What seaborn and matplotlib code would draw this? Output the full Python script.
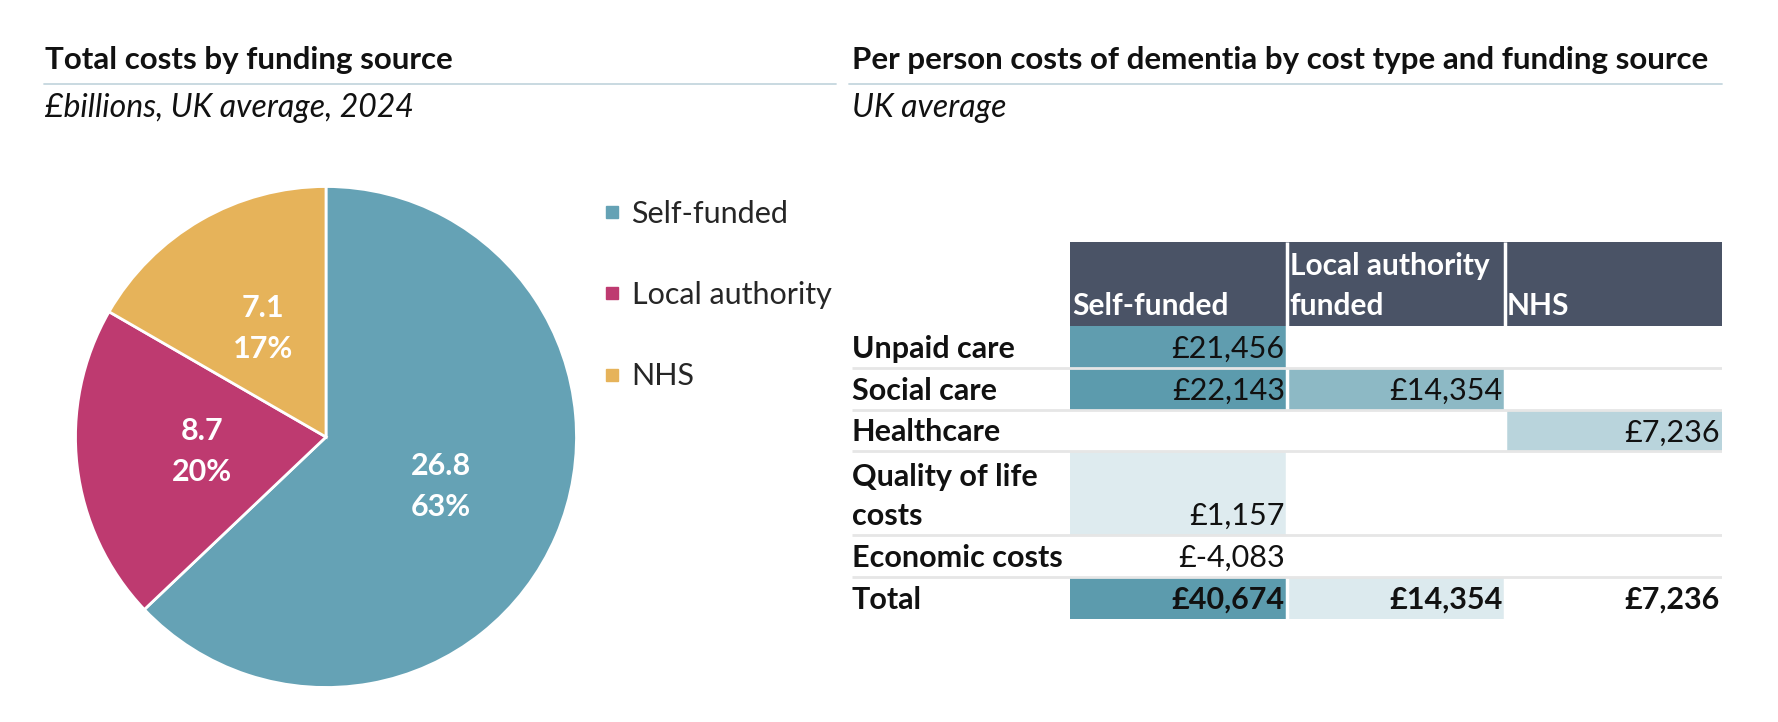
import numpy as np
import pandas as pd
import matplotlib
matplotlib.use("Agg")
import matplotlib.pyplot as plt
import seaborn as sns
from matplotlib.colors import LinearSegmentedColormap
from matplotlib.lines import Line2D
from matplotlib.patches import Rectangle

# ---------------- data ----------------
pie_labels = ["Self-funded", "Local authority", "NHS"]
pie_values = [26.8, 8.7, 7.1]
pie_colors = ["#65A2B5", "#BE3A70", "#E6B35A"]

col_labels = ["Self-funded", "Local authority\nfunded", "NHS"]
row_labels = ["Unpaid care", "Social care", "Healthcare",
              "Quality of life\ncosts", "Economic costs", "Total"]
self_funded = [21456, 22143, np.nan, 1157, -4083, 40674]
local_auth = [np.nan, 14354, np.nan, np.nan, np.nan, 14354]
nhs = [np.nan, np.nan, 7236, np.nan, np.nan, 7236]

# ---------------- style ----------------
sns.set_theme(style="white")
plt.rcParams["font.family"] = ["Lato", "DejaVu Sans"]

fig = plt.figure(figsize=(17.78, 7.22), dpi=100)
W, H = 1778, 722


def fx(px):
    return px / W


def fy(py):
    return 1 - py / H


title_kw = dict(fontsize=22.5, fontweight="bold", color="#111111", va="baseline")
sub_kw = dict(fontsize=23, fontstyle="italic", color="#111111", va="baseline")

fig.text(fx(45), fy(69), "Total costs by funding source", **title_kw)
fig.text(fx(45), fy(117), "£billions, UK average, 2024", **sub_kw)
fig.text(fx(852), fy(69), "Per person costs of dementia by cost type and funding source", **title_kw)
fig.text(fx(852), fy(117), "UK average", **sub_kw)
rule_color = "#C5D7DE"
fig.add_artist(Line2D([fx(44), fx(836)], [fy(84), fy(84)], color=rule_color, lw=1.3))
fig.add_artist(Line2D([fx(849), fx(1722)], [fy(84), fy(84)], color=rule_color, lw=1.3))

# ---------------- pie ----------------
ax_pie = fig.add_axes([fx(73), fy(690), fx(506), 506 / H])
total = sum(pie_values)
wedges, _, autotexts = ax_pie.pie(
    pie_values, colors=pie_colors, startangle=90, counterclock=False,
    autopct=lambda p: f"{p * total / 100:.1f}\n{p:.0f}%", pctdistance=0.5,
    wedgeprops=dict(edgecolor="white", linewidth=2),
    textprops=dict(color="white", fontsize=22, fontweight="bold"),
)
for t in autotexts:
    t.set_linespacing(1.55)
ax_pie.set_xlim(-1.01, 1.01)
ax_pie.set_ylim(-1.01, 1.01)
ax_pie.set_aspect("equal")

handles = [Line2D([], [], marker="s", linestyle="none", markersize=9,
                  markerfacecolor=c, markeredgecolor=c) for c in pie_colors]
fig.legend(handles, pie_labels, loc="upper left", bbox_to_anchor=(fx(604), fy(200)),
           frameon=False, fontsize=22, handlelength=0.55, handletextpad=0.35,
           labelspacing=1.74, borderaxespad=0, borderpad=0)

# ---------------- table (heatmap) ----------------
table = pd.DataFrame({"sf": self_funded, "la": local_auth, "nhs": nhs}, index=row_labels)
spans = [lab.count("\n") + 1 for lab in row_labels]
expanded = pd.DataFrame(np.repeat(table.values, spans, axis=0), columns=table.columns)
is_total = np.repeat([lab == "Total" for lab in row_labels], spans)
total_mask = np.broadcast_to(is_total[:, None], expanded.shape)

cmap = LinearSegmentedColormap.from_list("blues_excel", ["#FFFFFF", "#5C9BAD"])

ax_t = fig.add_axes([fx(852), fy(619), fx(1722 - 852), 377 / H])
body = expanded.mask(total_mask)
tot = expanded.where(total_mask)
sns.heatmap(body, ax=ax_t, cmap=cmap, vmin=np.nanmin(body.values), vmax=np.nanmax(body.values),
            cbar=False, xticklabels=False, yticklabels=False)
sns.heatmap(tot, ax=ax_t, cmap=cmap, vmin=np.nanmin(tot.values), vmax=np.nanmax(tot.values),
            cbar=False, xticklabels=False, yticklabels=False)

n_rows = expanded.shape[0]
n_cols = expanded.shape[1]
header_h = 2
ax_t.set_xlim(-1, n_cols)
ax_t.set_ylim(n_rows, -header_h)
ax_t.axis("off")

header_color = "#4A5366"
for j, lab in enumerate(col_labels):
    ax_t.add_patch(Rectangle((j, -header_h), 1, header_h, facecolor=header_color,
                             edgecolor="none", zorder=2))
    ax_t.text(j + 0.012, -0.14, lab, color="white", fontsize=21.5, fontweight="bold",
              ha="left", va="bottom", linespacing=1.5, zorder=4)

# column gaps
for j in range(1, n_cols):
    ax_t.plot([j, j], [-header_h, n_rows], color="white", lw=2.5, zorder=3,
              solid_capstyle="butt")

# row separators and labels
edges = np.cumsum([0] + spans)
for i, lab in enumerate(row_labels):
    y_end = edges[i + 1]
    if 0 < i:
        ax_t.plot([-1, n_cols], [edges[i], edges[i]], color="#E6E6E6", lw=2,
                  zorder=3, solid_capstyle="butt")
    ax_t.text(-1 + 0.0, y_end - 0.12, lab, fontsize=22, fontweight="bold",
              color="#111111", ha="left", va="bottom", linespacing=1.48, zorder=4)
    for j in range(n_cols):
        v = table.iloc[i, j]
        if np.isnan(v):
            continue
        ax_t.text(j + 1 - 0.01, y_end - 0.12, f"£{v:,.0f}", fontsize=22,
                  fontweight="bold" if lab == "Total" else "normal",
                  color="#111111", ha="right", va="bottom", zorder=4)

fig.savefig("out.png", dpi=100, facecolor="white")
